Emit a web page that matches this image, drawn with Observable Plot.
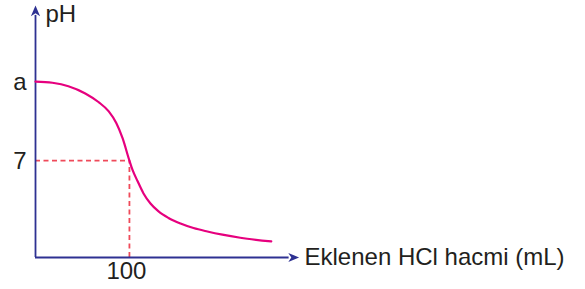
<!DOCTYPE html>
<html>
<head>
<meta charset="utf-8">
<script src="https://cdn.jsdelivr.net/npm/d3@7"></script>
<script src="https://cdn.jsdelivr.net/npm/@observablehq/plot@0.6"></script>
<style>
  html, body { margin: 0; padding: 0; background: #ffffff; }
  #chart { width: 585px; height: 289px; }
</style>
</head>
<body>
<div id="chart"></div>
<script>
// Titration curve: pH vs added HCl volume (mL)
const volumeML = [0, 18, 35, 53, 67, 78, 86, 92.6, 100, 103.3, 108.6, 115, 122.4, 131, 141.6, 154.4, 168.2, 183, 199, 218, 251];
const pHValues = [12.72, 12.63, 12.38, 11.86, 11.24, 10.56, 9.72, 8.64, 7.0, 6.33, 5.53, 4.63, 3.9, 3.33, 2.86, 2.46, 2.13, 1.88, 1.65, 1.43, 1.16];

const yTickValues = [12.72, 7];
const yTickLabels = ["a", "7"];
const xTickValues = [100];
const xTickLabels = ["100"];

const equivalenceVolume = 100;
const equivalencePH = 7;

const xAxisLabel = "Eklenen HCl hacmi (mL)";
const yAxisLabel = "pH";

const xMax = 280;
const yMax = 18;

const curve = volumeML.map((v, i) => ({v, ph: pHValues[i]}));
const yTicks = yTickValues.map((v, i) => ({v, label: yTickLabels[i]}));
const xTicks = xTickValues.map((v, i) => ({v, label: xTickLabels[i]}));

const axisColor = "#2e3192";
const textColor = "#231f20";
const font = "Liberation Sans, Arial, sans-serif";

// notched arrowhead pointing up, tip 10px above anchor
const arrowHead = {
  draw(ctx) {
    ctx.moveTo(0, -10);
    ctx.lineTo(4.6, 0.8);
    ctx.lineTo(0, -2.2);
    ctx.lineTo(-4.6, 0.8);
    ctx.closePath();
  }
};

const chart = Plot.plot({
  width: 585,
  height: 289,
  marginLeft: 35,
  marginRight: 287,
  marginTop: 8,
  marginBottom: 32,
  x: {domain: [0, xMax], axis: null},
  y: {domain: [0, yMax], axis: null},
  style: {fontFamily: font, background: "#ffffff", overflow: "visible"},
  marks: [
    // dashed guides
    Plot.ruleY([equivalencePH], {x1: 0, x2: equivalenceVolume, stroke: "#ef4a5a", strokeWidth: 1.8, strokeDasharray: "5,3.5"}),
    Plot.ruleX([equivalenceVolume], {y1: 0, y2: equivalencePH, stroke: "#ef4a5a", strokeWidth: 1.8, strokeDasharray: "5,3.5"}),
    // axes
    Plot.ruleX([0], {y1: 0, y2: 17.5, stroke: axisColor, strokeWidth: 1.8}),
    Plot.ruleY([0], {x1: 0, x2: 270, stroke: axisColor, strokeWidth: 1.8}),
    Plot.dot([{x: 0, y: 17.5}], {x: "x", y: "y", symbol: arrowHead, fill: axisColor, stroke: "none", r: 4}),
    Plot.dot([{x: 270, y: 0}], {x: "x", y: "y", symbol: arrowHead, fill: axisColor, stroke: "none", r: 4, rotate: 90}),
    // curve
    Plot.line(curve, {x: "v", y: "ph", curve: "monotone-x", stroke: "#e6007e", strokeWidth: 2.2}),
    // tick labels
    Plot.text(yTicks, {x: 0, y: "v", text: "label", textAnchor: "end", dx: -9, dy: 1, fontSize: 24, fill: textColor, lineAnchor: "middle"}),
    Plot.text(xTicks, {x: "v", y: 0, text: "label", textAnchor: "middle", dx: -3, dy: 4, fontSize: 24, fill: textColor, lineAnchor: "top"}),
    // axis labels
    Plot.text([yAxisLabel], {x: 0, y: yMax, text: d => d, textAnchor: "start", dx: 10, dy: 6, fontSize: 24, fill: textColor, lineAnchor: "middle"}),
    Plot.text([xAxisLabel], {x: xMax, y: 0, text: d => d, textAnchor: "start", dx: 6, dy: 0, fontSize: 24, fill: textColor, lineAnchor: "middle"})
  ]
});

document.getElementById("chart").appendChild(chart);
</script>
</body>
</html>
